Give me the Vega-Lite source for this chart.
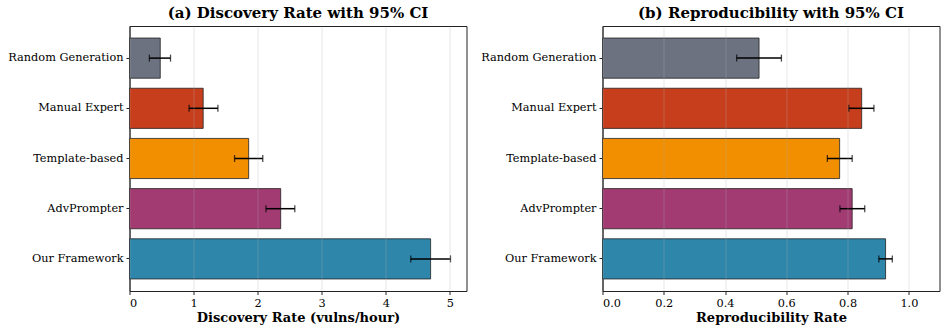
{
  "$schema": "https://vega.github.io/schema/vega-lite/v6.json",
  "background": "white",
  "padding": {"left": 6.5, "top": 5, "right": 5, "bottom": 5},
  "datasets": {
    "disc": [
      {"method": "Random Generation", "value": 0.48, "lo": 0.31, "hi": 0.64},
      {"method": "Manual Expert", "value": 1.15, "lo": 0.93, "hi": 1.38},
      {"method": "Template-based", "value": 1.86, "lo": 1.64, "hi": 2.08},
      {"method": "AdvPrompter", "value": 2.36, "lo": 2.13, "hi": 2.58},
      {"method": "Our Framework", "value": 4.70, "lo": 4.39, "hi": 5.01}
    ],
    "repro": [
      {"method": "Random Generation", "value": 0.511, "lo": 0.438, "hi": 0.584},
      {"method": "Manual Expert", "value": 0.846, "lo": 0.804, "hi": 0.886},
      {"method": "Template-based", "value": 0.774, "lo": 0.734, "hi": 0.815},
      {"method": "AdvPrompter", "value": 0.815, "lo": 0.775, "hi": 0.856},
      {"method": "Our Framework", "value": 0.924, "lo": 0.902, "hi": 0.946}
    ]
  },
  "config": {
    "font": "DejaVu Serif",
    "view": {"stroke": "#222", "strokeWidth": 1},
    "axis": {
      "labelFont": "DejaVu Serif",
      "titleFont": "DejaVu Serif",
      "labelFontSize": 11.3,
      "labelColor": "#000",
      "titleColor": "#000",
      "titleFontSize": 13,
      "titleFontWeight": "bold",
      "tickColor": "#222",
      "tickSize": 3.5,
      "domainColor": "#222",
      "labelPadding": 3
    },
    "title": {"font": "DejaVu Serif", "fontSize": 15, "fontWeight": "bold", "color": "#000", "offset": 5},
    "concat": {"spacing": 12}
  },
  "hconcat": [
    {
      "width": 337,
      "height": 265,
      "title": "(a) Discovery Rate with 95% CI",
      "data": {"name": "disc"},
      "encoding": {
        "y": {
          "field": "method", "type": "nominal",
          "sort": ["Random Generation", "Manual Expert", "Template-based", "AdvPrompter", "Our Framework"],
          "scale": {"paddingInner": 0.2, "paddingOuter": 0.24},
          "axis": {"title": null, "grid": false}
        }
      },
      "layer": [
        {
          "mark": {"type": "bar", "stroke": "#222", "strokeWidth": 0.8, "opacity": 1},
          "encoding": {
            "x": {
              "field": "value", "type": "quantitative",
              "scale": {"domain": [0, 5.26], "nice": false},
              "axis": {"title": "Discovery Rate (vulns/hour)", "values": [0, 1, 2, 3, 4, 5], "format": "d", "grid": true, "gridColor": "#b0b0b0", "gridOpacity": 0.3, "zindex": 1, "titlePadding": 3}
            },
            "color": {
              "field": "method", "type": "nominal", "legend": null,
              "scale": {
                "domain": ["Random Generation", "Manual Expert", "Template-based", "AdvPrompter", "Our Framework"],
                "range": ["#6C7280", "#C73E1D", "#F18F01", "#A23B72", "#2E86AB"]
              }
            }
          }
        },
        {
          "mark": {"type": "rule", "color": "#000", "strokeWidth": 1.5},
          "encoding": {"x": {"field": "lo", "type": "quantitative"}, "x2": {"field": "hi"}}
        },
        {
          "mark": {"type": "tick", "color": "#000", "thickness": 1.3, "size": 7, "orient": "vertical"},
          "encoding": {"x": {"field": "lo", "type": "quantitative"}}
        },
        {
          "mark": {"type": "tick", "color": "#000", "thickness": 1.3, "size": 7, "orient": "vertical"},
          "encoding": {"x": {"field": "hi", "type": "quantitative"}}
        }
      ]
    },
    {
      "width": 337,
      "height": 265,
      "title": "(b) Reproducibility with 95% CI",
      "data": {"name": "repro"},
      "encoding": {
        "y": {
          "field": "method", "type": "nominal",
          "sort": ["Random Generation", "Manual Expert", "Template-based", "AdvPrompter", "Our Framework"],
          "scale": {"paddingInner": 0.2, "paddingOuter": 0.24},
          "axis": {"title": null, "grid": false}
        }
      },
      "layer": [
        {
          "mark": {"type": "bar", "stroke": "#222", "strokeWidth": 0.8, "opacity": 1},
          "encoding": {
            "x": {
              "field": "value", "type": "quantitative",
              "scale": {"domain": [0, 1.1], "nice": false},
              "axis": {"title": "Reproducibility Rate", "values": [0, 0.2, 0.4, 0.6, 0.8, 1.0], "format": ".1f", "grid": true, "gridColor": "#b0b0b0", "gridOpacity": 0.3, "zindex": 1, "titlePadding": 3}
            },
            "color": {
              "field": "method", "type": "nominal", "legend": null,
              "scale": {
                "domain": ["Random Generation", "Manual Expert", "Template-based", "AdvPrompter", "Our Framework"],
                "range": ["#6C7280", "#C73E1D", "#F18F01", "#A23B72", "#2E86AB"]
              }
            }
          }
        },
        {
          "mark": {"type": "rule", "color": "#000", "strokeWidth": 1.5},
          "encoding": {"x": {"field": "lo", "type": "quantitative"}, "x2": {"field": "hi"}}
        },
        {
          "mark": {"type": "tick", "color": "#000", "thickness": 1.3, "size": 7, "orient": "vertical"},
          "encoding": {"x": {"field": "lo", "type": "quantitative"}}
        },
        {
          "mark": {"type": "tick", "color": "#000", "thickness": 1.3, "size": 7, "orient": "vertical"},
          "encoding": {"x": {"field": "hi", "type": "quantitative"}}
        }
      ]
    }
  ]
}
